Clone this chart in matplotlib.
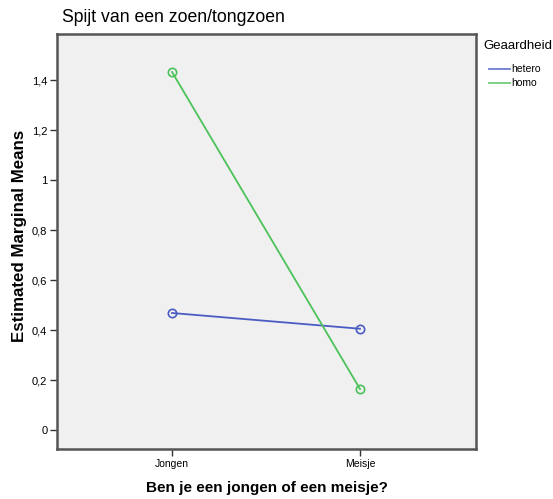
import matplotlib
matplotlib.use("Agg")
import matplotlib.pyplot as plt
from matplotlib.lines import Line2D

plt.rcParams["font.family"] = ["Liberation Sans", "DejaVu Sans"]

categories = ["Jongen", "Meisje"]
series_names = ["hetero", "homo"]
hetero = [0.468, 0.405]
homo = [1.432, 0.164]
yticks = [0, 0.2, 0.4, 0.6, 0.8, 1.0, 1.2, 1.4]
ytick_labels = ["0", "0,2", "0,4", "0,6", "0,8", "1", "1,2", "1,4"]
colors = ["#4a5cc4", "#4cc25a"]

fig = plt.figure(figsize=(5.53, 4.99), dpi=100)
W, H = 553, 499
ax = fig.add_axes([57 / W, 1 - 449 / H, (476 - 57) / W, (449 - 34) / H])
ax.set_facecolor("#f0f0f0")

x = list(range(len(categories)))
for vals, c in zip([hetero, homo], colors):
    ax.plot(x, vals, color=c, lw=1.3, marker="o", ms=6, mfc="none", mec=c, mew=1.2)

ax.set_xlim(-0.612, 1.617)
ax.set_ylim(-0.076, 1.584)
ax.set_xticks(x)
ax.set_xticklabels(categories, fontsize=7.5)
ax.set_yticks(yticks)
ax.set_yticklabels(ytick_labels, fontsize=8)
ax.tick_params(axis="both", direction="out", length=5, width=1, color="#333333", pad=2)
for s in ax.spines.values():
    s.set_color("#555555")
    s.set_linewidth(1.8)

ax.set_xlabel("Ben je een jongen of een meisje?", fontsize=11, fontweight="bold", labelpad=9)
ax.set_ylabel("Estimated Marginal Means", fontsize=12.2, fontweight="bold")
ax.yaxis.set_label_coords(-0.072, 0.514)
fig.text(62 / W, 1 - 18 / H, "Spijt van een zoen/tongzoen", fontsize=12.7, va="center", ha="left")

fig.text(483 / W, 1 - 46 / H, "Geaardheid", fontsize=9.5, va="center", ha="left")
for i, (name, c) in enumerate(zip(series_names, colors)):
    yy = 1 - (69 + 14 * i) / H
    fig.add_artist(Line2D([489 / W, 510 / W], [yy, yy], color=c, lw=1.3, alpha=0.8))
    fig.text(511 / W, yy, name, fontsize=7.5, va="center", ha="left")

fig.savefig("out.png", dpi=100)
